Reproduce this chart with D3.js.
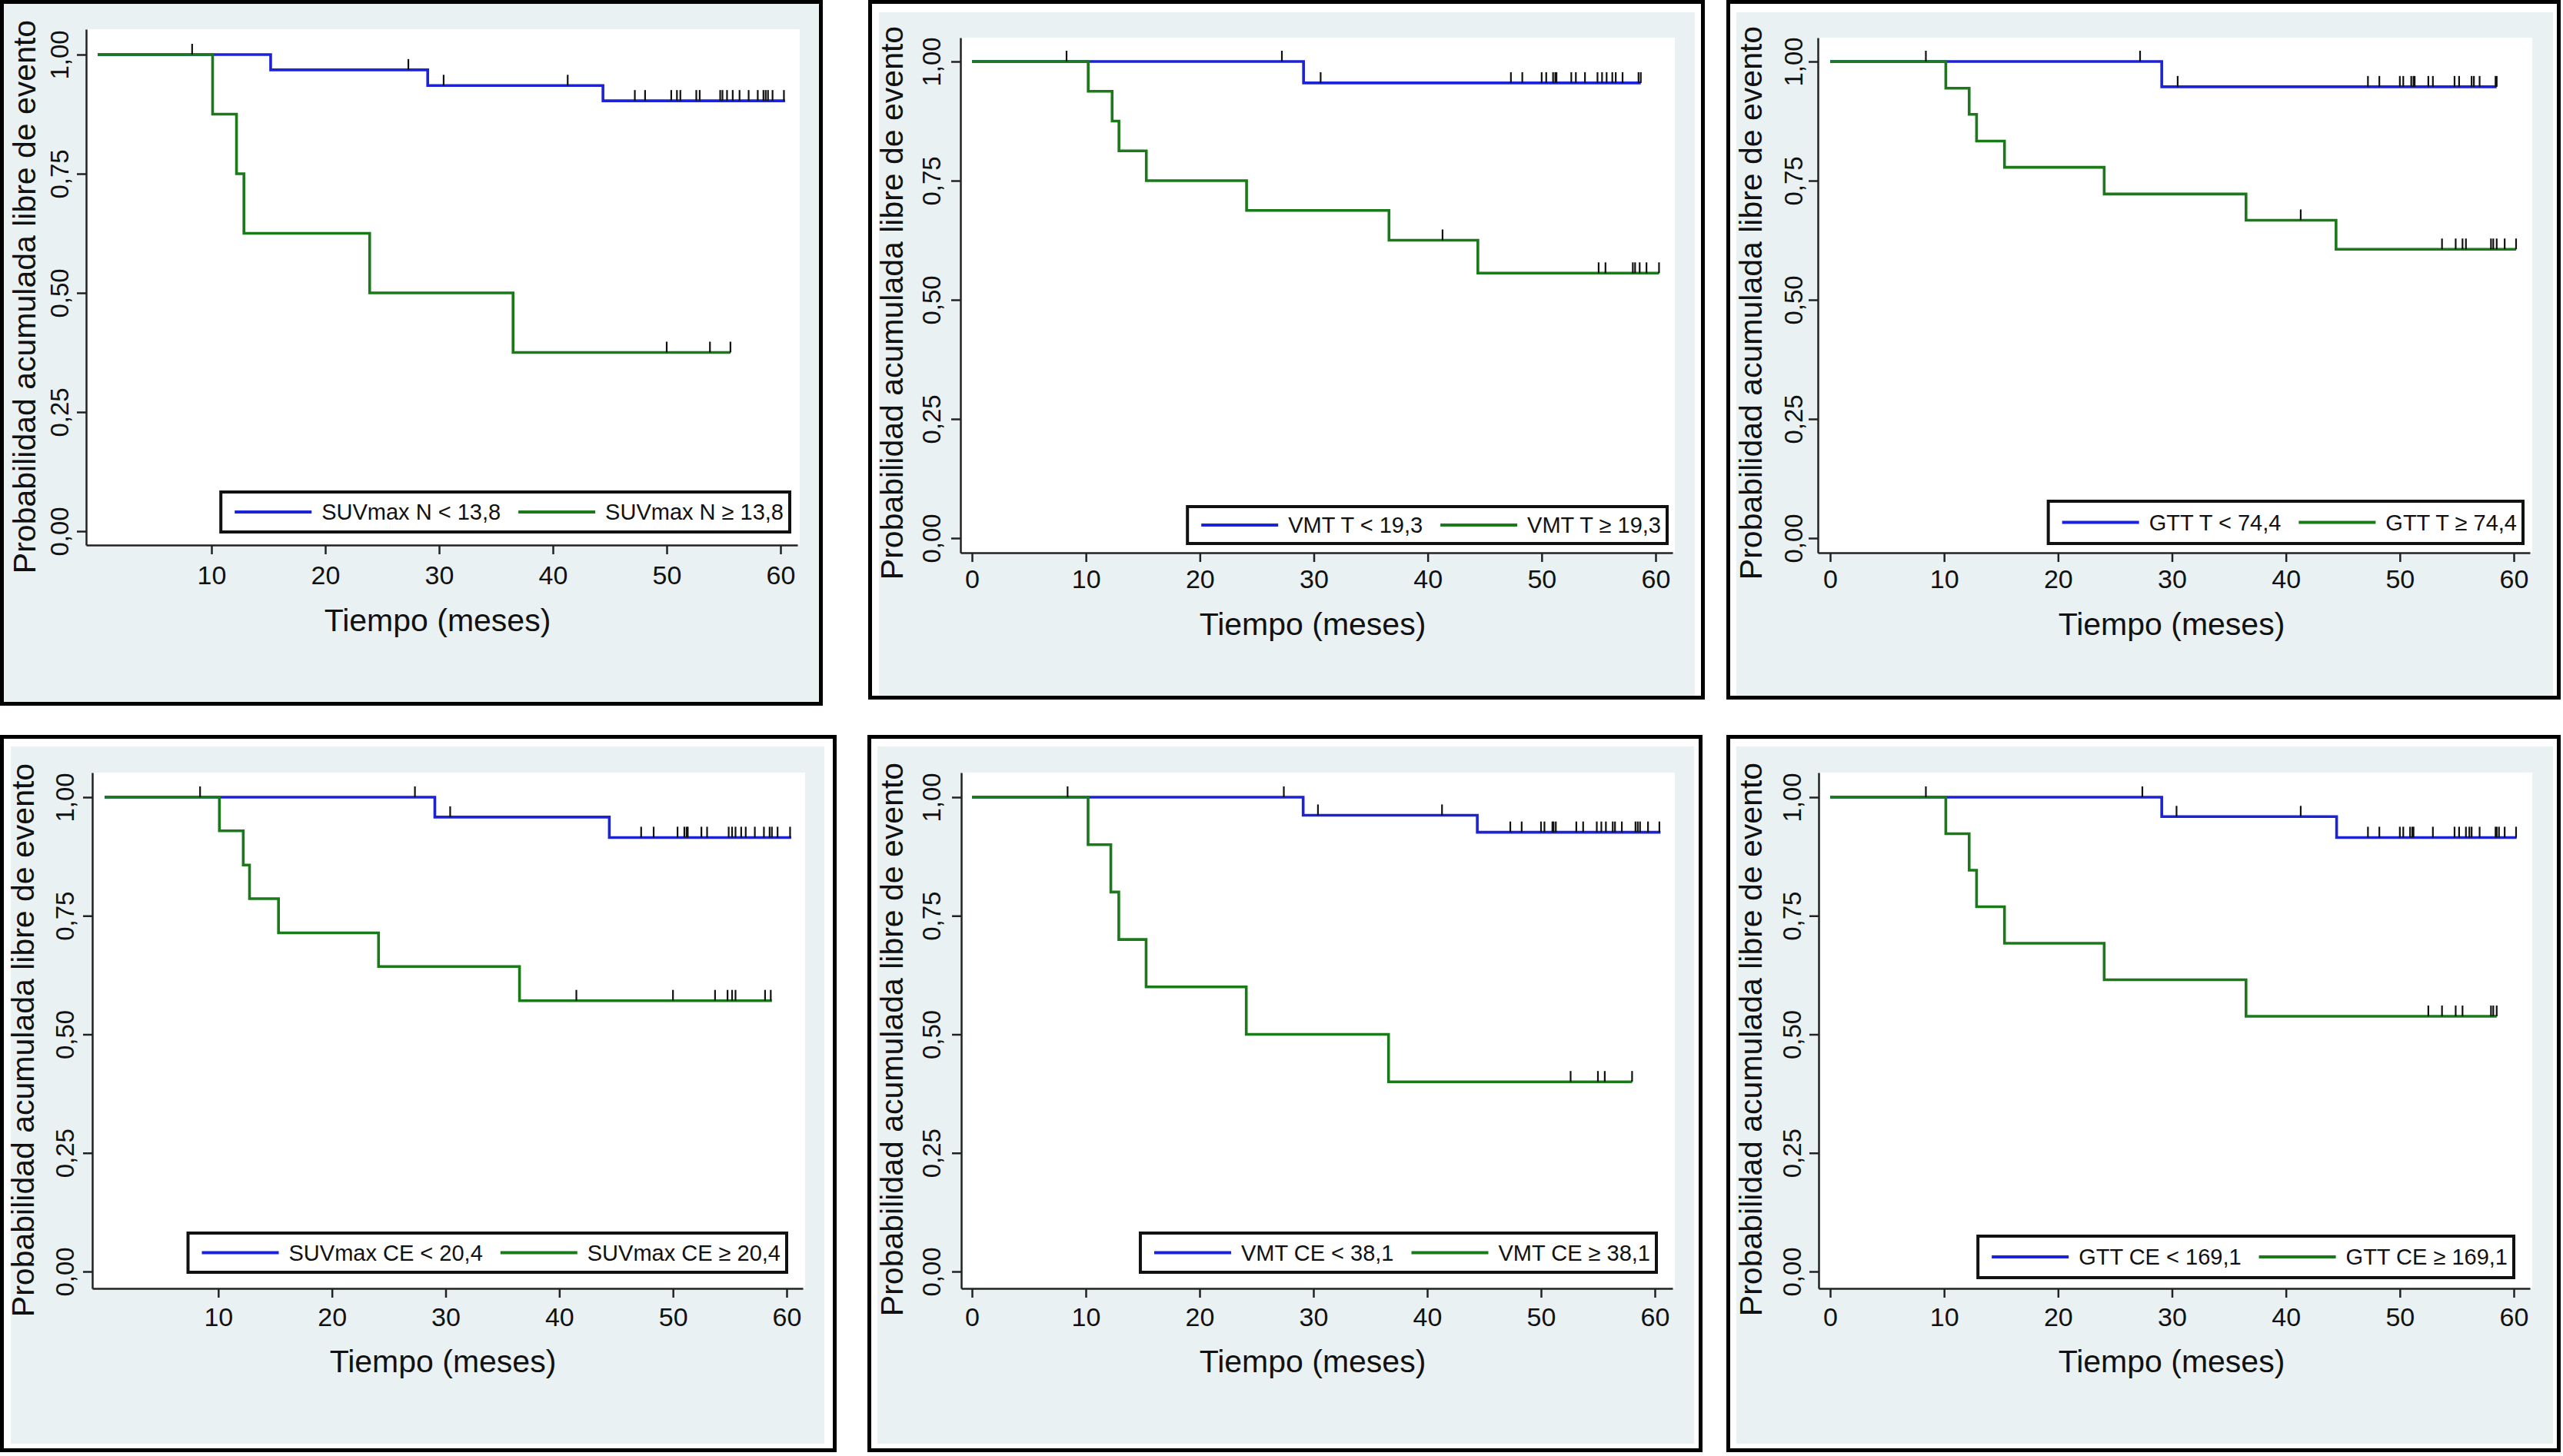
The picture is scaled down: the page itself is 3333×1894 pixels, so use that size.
<!DOCTYPE html>
<html>
<head>
<meta charset="utf-8">
<script src="https://cdn.jsdelivr.net/npm/d3@7/dist/d3.min.js"></script>
<style>
  html, body { margin: 0; padding: 0; background: #ffffff; }
  svg { display: block; }
  text { font-family: "Liberation Sans", Arial, Helvetica, sans-serif; fill: #111; }
</style>
</head>
<body>
<svg id="chart" width="3333" height="1894"></svg>
<script>
// ---------------- DATA ----------------
const yTickValues = [0, 0.25, 0.5, 0.75, 1];
const yTickLabels = ["0,00", "0,25", "0,50", "0,75", "1,00"];
const xTicksFull = [0, 10, 20, 30, 40, 50, 60];
const xTicksNoZero = [10, 20, 30, 40, 50, 60];
const xTitle = "Tiempo (meses)";
const yTitle = "Probabilidad acumulada libre de evento";

const legendLow  = ["SUVmax N < 13,8", "VMT T < 19,3", "GTT T < 74,4", "SUVmax CE < 20,4", "VMT CE < 38,1", "GTT CE < 169,1"];
const legendHigh = ["SUVmax N \u2265 13,8", "VMT T \u2265 19,3", "GTT T \u2265 74,4", "SUVmax CE \u2265 20,4", "VMT CE \u2265 38,1", "GTT CE \u2265 169,1"];

// Panel 1: SUVmax N
const p1LowT = [15.2, 29.0, 44.4];
const p1LowS = [0.968, 0.935, 0.903];
const p1LowEnd = 60.4;
const p1LowCens = [8.3, 27.3, 30.4, 41.3, 47.2, 48.1, 50.4, 50.9, 51.2, 52.6, 52.9, 54.7, 54.9, 55.3, 55.8, 56.4, 57.2, 58.0, 58.5, 58.7, 58.9, 59.3, 60.3];
const p1HighT = [10.1, 12.2, 12.85, 23.9, 36.5];
const p1HighS = [0.875, 0.75, 0.625, 0.5, 0.375];
const p1HighEnd = 55.6;
const p1HighCens = [50.0, 53.8, 55.6];

// Panel 2: VMT T
const p2LowT = [29.1];
const p2LowS = [0.955];
const p2LowEnd = 58.7;
const p2LowCens = [8.3, 27.2, 30.6, 47.3, 48.3, 50.0, 50.4, 51.0, 51.2, 51.3, 52.6, 53.0, 53.8, 54.9, 55.3, 55.7, 56.2, 56.5, 57.1, 58.5, 58.7];
const p2HighT = [10.2, 12.3, 12.9, 15.3, 24.1, 36.6, 44.4];
const p2HighS = [0.9375, 0.875, 0.8125, 0.75, 0.6875, 0.625, 0.556];
const p2HighEnd = 60.3;
const p2HighCens = [41.3, 55.0, 55.6, 58.0, 58.2, 58.6, 59.2, 60.3];

// Panel 3: GTT T
const p3LowT = [29.1];
const p3LowS = [0.947];
const p3LowEnd = 58.5;
const p3LowCens = [8.4, 27.2, 30.5, 47.2, 48.2, 50.0, 50.3, 51.0, 51.2, 51.3, 52.5, 52.9, 54.8, 55.2, 56.3, 56.5, 57.0, 58.4, 58.5];
const p3HighT = [10.15, 12.2, 12.85, 15.3, 24.05, 36.5, 44.4];
const p3HighS = [0.944, 0.889, 0.833, 0.778, 0.722, 0.667, 0.606];
const p3HighEnd = 60.2;
const p3HighCens = [41.3, 53.7, 54.9, 55.5, 55.8, 58.0, 58.2, 58.5, 59.2, 60.2];

// Panel 4: SUVmax CE
const p4LowT = [29.05, 44.4];
const p4LowS = [0.958, 0.915];
const p4LowEnd = 60.4;
const p4LowCens = [8.4, 27.3, 30.4, 47.2, 48.3, 50.4, 51.0, 51.2, 51.3, 52.5, 53.0, 54.9, 55.2, 55.5, 56.0, 56.4, 57.2, 58.0, 58.5, 58.7, 59.2, 60.3];
const p4HighT = [10.1, 12.2, 12.75, 15.3, 24.1, 36.5];
const p4HighS = [0.929, 0.857, 0.786, 0.714, 0.643, 0.571];
const p4HighEnd = 58.7;
const p4HighCens = [41.5, 50.0, 53.7, 54.8, 55.2, 55.5, 58.1, 58.6];

// Panel 5: VMT CE
const p5LowT = [29.1, 44.4];
const p5LowS = [0.962, 0.926];
const p5LowEnd = 60.5;
const p5LowCens = [8.4, 27.4, 30.4, 41.3, 47.3, 48.3, 50.0, 50.3, 51.0, 51.1, 51.3, 53.1, 53.7, 54.9, 55.3, 55.7, 56.3, 56.5, 57.1, 58.3, 58.5, 58.7, 59.4, 60.4];
const p5HighT = [10.2, 12.2, 12.9, 15.3, 24.1, 36.6];
const p5HighS = [0.9, 0.8, 0.7, 0.6, 0.5, 0.4];
const p5HighEnd = 58.0;
const p5HighCens = [52.6, 55.0, 55.6, 58.0];

// Panel 6: GTT CE
const p6LowT = [29.1, 44.45];
const p6LowS = [0.959, 0.915];
const p6LowEnd = 60.25;
const p6LowCens = [8.4, 27.4, 30.4, 41.3, 47.2, 48.2, 50.0, 50.3, 50.9, 51.1, 51.2, 52.9, 54.8, 55.2, 55.8, 56.1, 56.3, 57.0, 58.4, 58.5, 58.7, 59.2, 60.2];
const p6HighT = [10.15, 12.2, 12.85, 15.3, 24.05, 36.5];
const p6HighS = [0.923, 0.846, 0.769, 0.692, 0.615, 0.538];
const p6HighEnd = 58.5;
const p6HighCens = [52.5, 53.7, 54.9, 55.5, 58.0, 58.2, 58.5];

// ---------------- LAYOUT (positions only) ----------------
const layout = [
  {border:[0,0,1070,918], light:[0,0,1070,918], plotL:112, plotT:38, plotR:1040, axisY:709, axisEnd:1037,
   x0:127, x60:1015, y1:71, y0:691, xlabY:748, ylabX:77, titleX:569, titleY:806, ytitleX:31, ytitleY:386,
   legR:1027, legT:640, legB:692, zero:false},
  {border:[1129,0,2217,910], light:[1143,16,2204,905], plotL:1249, plotT:49, plotR:2178, axisY:719, axisEnd:2175,
   x0:1264, x60:2153, y1:80, y0:700, xlabY:753, ylabX:1211, titleX:1707, titleY:811, ytitleX:1159, ytitleY:394,
   legR:2168, legT:659, legB:707, zero:true},
  {border:[2245,0,3330,910], light:[2258,16,3320,905], plotL:2364, plotT:49, plotR:3293, axisY:719, axisEnd:3290,
   x0:2380, x60:3269, y1:80, y0:700, xlabY:753, ylabX:2332, titleX:2824, titleY:811, ytitleX:2276, ytitleY:394,
   legR:3281, legT:652, legB:707, zero:true},
  {border:[0,956,1088,1889], light:[14,971,1072,1878], plotL:120, plotT:1005, plotR:1047, axisY:1676, axisEnd:1044,
   x0:136, x60:1023, y1:1037, y0:1654, xlabY:1713, ylabX:84, titleX:576, titleY:1770, ytitleX:29, ytitleY:1353,
   legR:1023, legT:1604, legB:1655, zero:false},
  {border:[1128,956,2214,1889], light:[1141,971,2203,1878], plotL:1250, plotT:1005, plotR:2178, axisY:1676, axisEnd:2175,
   x0:1264, x60:2152, y1:1037, y0:1654, xlabY:1713, ylabX:1211, titleX:1707, titleY:1770, ytitleX:1159, ytitleY:1352,
   legR:2154, legT:1604, legB:1655, zero:true},
  {border:[2245,956,3330,1889], light:[2258,971,3320,1878], plotL:2365, plotT:1005, plotR:3293, axisY:1676, axisEnd:3290,
   x0:2380, x60:3269, y1:1037, y0:1654, xlabY:1713, ylabX:2330, titleX:2824, titleY:1770, ytitleX:2276, ytitleY:1352,
   legR:3269, legT:1608, legB:1662, zero:true}
];

const series = [
  [{t:p1LowT, s:p1LowS, end:p1LowEnd, c:p1LowCens}, {t:p1HighT, s:p1HighS, end:p1HighEnd, c:p1HighCens}],
  [{t:p2LowT, s:p2LowS, end:p2LowEnd, c:p2LowCens}, {t:p2HighT, s:p2HighS, end:p2HighEnd, c:p2HighCens}],
  [{t:p3LowT, s:p3LowS, end:p3LowEnd, c:p3LowCens}, {t:p3HighT, s:p3HighS, end:p3HighEnd, c:p3HighCens}],
  [{t:p4LowT, s:p4LowS, end:p4LowEnd, c:p4LowCens}, {t:p4HighT, s:p4HighS, end:p4HighEnd, c:p4HighCens}],
  [{t:p5LowT, s:p5LowS, end:p5LowEnd, c:p5LowCens}, {t:p5HighT, s:p5HighS, end:p5HighEnd, c:p5HighCens}],
  [{t:p6LowT, s:p6LowS, end:p6LowEnd, c:p6LowCens}, {t:p6HighT, s:p6HighS, end:p6HighEnd, c:p6HighCens}]
];

const COLORS = ["#1c22d6", "#1a7a1a"];
const LIGHT = "#e9f1f3";
const svg = d3.select("#chart");

function survAt(g, time) {
  let v = 1;
  for (let i = 0; i < g.t.length; i++) if (g.t[i] <= time) v = g.s[i];
  return v;
}

layout.forEach((L, pi) => {
  const g = svg.append("g");
  const b = L.border;
  // panel background
  g.append("rect").attr("x", b[0]).attr("y", b[1]).attr("width", b[2]-b[0]).attr("height", b[3]-b[1]).attr("fill", "#fff");
  const lt = L.light;
  g.append("rect").attr("x", lt[0]).attr("y", lt[1]).attr("width", lt[2]-lt[0]).attr("height", lt[3]-lt[1]).attr("fill", LIGHT);
  // plot region
  g.append("rect").attr("x", L.plotL).attr("y", L.plotT).attr("width", L.plotR-L.plotL).attr("height", L.axisY-L.plotT).attr("fill", "#fff");

  // scales: value<->pixel via reference positions, domain extended to the axis extents
  const pxPerT = (L.x60 - L.x0) / 60;
  const tAt = px => (px - L.x0) / pxPerT;
  const x = d3.scaleLinear().domain([tAt(L.plotL), tAt(L.axisEnd)]).range([L.plotL, L.axisEnd]);
  const vAt = py => (L.y0 - py) / (L.y0 - L.y1);
  const y = d3.scaleLinear().domain([vAt(L.axisY), vAt(L.plotT)]).range([L.axisY, L.plotT]);

  // y axis
  const yAxis = d3.axisLeft(y).tickValues(yTickValues).tickSize(12).tickSizeOuter(0)
    .tickFormat((d, i) => yTickLabels[i]);
  const ya = g.append("g").attr("transform", `translate(${L.plotL},0)`).call(yAxis);
  ya.select(".domain").attr("stroke", "#222").attr("stroke-width", 2.5);
  ya.selectAll(".tick line").attr("stroke", "#222").attr("stroke-width", 2.5);
  ya.selectAll(".tick text")
    .attr("x", null).attr("dy", "0.36em").attr("text-anchor", "middle")
    .attr("transform", `translate(${L.ylabX - L.plotL},0) rotate(-90)`)
    .style("font-size", "33px").style("font-family", "'Liberation Sans', Arial, sans-serif").attr("fill", "#111");

  // x axis
  const xAxis = d3.axisBottom(x).tickValues(L.zero ? xTicksFull : xTicksNoZero).tickSize(12).tickSizeOuter(0);
  const xa = g.append("g").attr("transform", `translate(0,${L.axisY})`).call(xAxis);
  xa.select(".domain").attr("stroke", "#222").attr("stroke-width", 2.5);
  xa.selectAll(".tick line").attr("stroke", "#222").attr("stroke-width", 2.5);
  xa.selectAll(".tick text")
    .attr("y", L.xlabY - L.axisY).attr("dy", "0.36em")
    .style("font-size", "34px").style("font-family", "'Liberation Sans', Arial, sans-serif").attr("fill", "#111");

  // titles
  g.append("text").attr("x", L.titleX).attr("y", L.titleY).attr("dy", "0.36em").attr("text-anchor", "middle")
    .style("font-size", "41px").text(xTitle);
  g.append("text").attr("transform", `translate(${L.ytitleX},${L.ytitleY}) rotate(-90)`).attr("dy", "0.36em")
    .attr("text-anchor", "middle").style("font-size", "41px").text(yTitle);

  // curves
  const line = d3.line().x(d => x(d[0])).y(d => y(d[1])).curve(d3.curveStepAfter);
  const groups = series[pi];
  groups.forEach((grp, gi) => {
    const pts = [[0, 1]];
    grp.t.forEach((tt, i) => pts.push([tt, grp.s[i]]));
    pts.push([grp.end, grp.s[grp.s.length - 1]]);
    g.append("path").attr("d", line(pts)).attr("fill", "none").attr("stroke", COLORS[gi])
      .attr("stroke-width", 3.6).attr("stroke-linejoin", "miter");
  });
  groups.forEach((grp) => {
    g.append("g").selectAll("line").data(grp.c).join("line")
      .attr("x1", d => x(d)).attr("x2", d => x(d))
      .attr("y1", d => y(survAt(grp, d))).attr("y2", d => y(survAt(grp, d)) - 14)
      .attr("stroke", "#111").attr("stroke-width", 2.2);
  });

  // legend
  const lg = g.append("g");
  const fs = 29;
  const midY = (L.legT + L.legB) / 2;
  const t1 = lg.append("text").style("font-size", fs + "px").attr("dy", "0.36em").text(legendLow[pi]);
  const t2 = lg.append("text").style("font-size", fs + "px").attr("dy", "0.36em").text(legendHigh[pi]);
  const w1 = t1.node().getComputedTextLength();
  const w2 = t2.node().getComputedTextLength();
  const padL = 18, keyW = 100, gapT = 13, gapK = 23, padR = 8;
  const W = padL + keyW + gapT + w1 + gapK + keyW + gapT + w2 + padR;
  const x0 = L.legR - W;
  lg.insert("rect", "text").attr("x", x0).attr("y", L.legT).attr("width", W).attr("height", L.legB - L.legT)
    .attr("fill", "#fff").attr("stroke", "#111").attr("stroke-width", 4);
  let cx = x0 + padL;
  lg.append("line").attr("x1", cx).attr("x2", cx + keyW).attr("y1", midY).attr("y2", midY)
    .attr("stroke", COLORS[0]).attr("stroke-width", 4);
  cx += keyW + gapT;
  t1.attr("x", cx).attr("y", midY);
  cx += w1 + gapK;
  lg.append("line").attr("x1", cx).attr("x2", cx + keyW).attr("y1", midY).attr("y2", midY)
    .attr("stroke", COLORS[1]).attr("stroke-width", 4);
  cx += keyW + gapT;
  t2.attr("x", cx).attr("y", midY);

  // panel border
  g.append("rect").attr("x", b[0] + 2.5).attr("y", b[1] + 2.5).attr("width", b[2] - b[0] - 5).attr("height", b[3] - b[1] - 5)
    .attr("fill", "none").attr("stroke", "#000").attr("stroke-width", 5);
});
</script>
</body>
</html>
